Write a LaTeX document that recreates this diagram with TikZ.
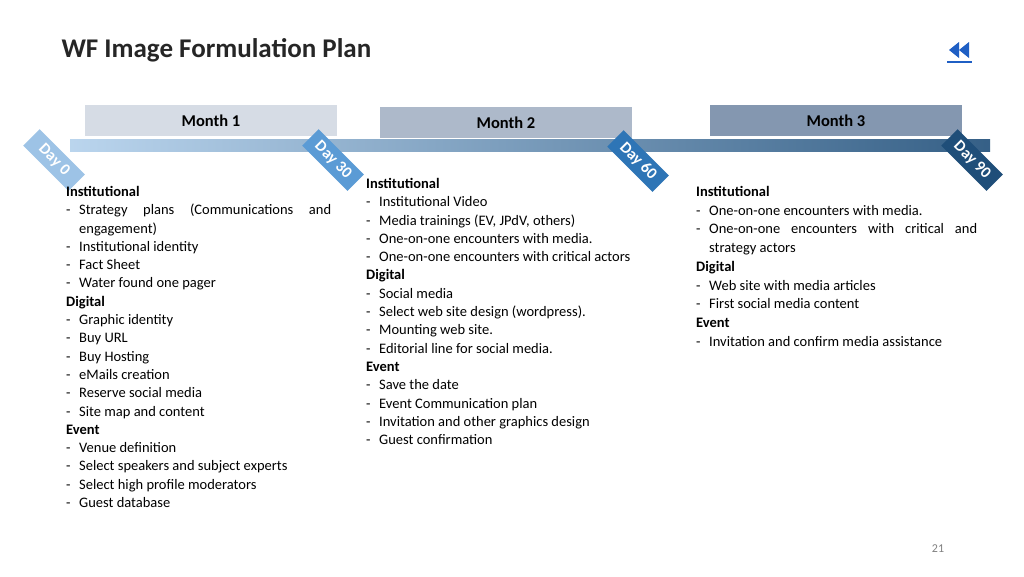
\documentclass[tikz,border=0pt]{standalone}
\usepackage{fontspec}
\setmainfont{Carlito}
\usetikzlibrary{positioning}
\definecolor{titlegray}{HTML}{262626}
\definecolor{monthA}{HTML}{D6DCE5}
\definecolor{monthB}{HTML}{ADB9CA}
\definecolor{monthC}{HTML}{8497B0}
\definecolor{dayA}{HTML}{9DC3E6}
\definecolor{dayB}{HTML}{5B9BD5}
\definecolor{dayC}{HTML}{2E75B6}
\definecolor{dayD}{HTML}{1F4E79}
\definecolor{iconblue}{HTML}{1F5FC4}
\newcommand{\itm}[1]{\makebox[13pt][l]{-}#1}
\begin{document}
\begin{tikzpicture}[x=1pt, y=-1pt,
    monthbox/.style={minimum width=252pt, minimum height=31pt, inner sep=0pt, font=\fontsize{16.5}{18}\selectfont\bfseries},
    daytag/.style={rotate=-45, minimum width=64pt, minimum height=23pt, inner sep=0pt, text=white, font=\fontsize{16}{18}\selectfont\bfseries},
    column/.style={anchor=north west, inner sep=0pt, align=left, font=\fontsize{14.5}{18.3}\selectfont}]
    \useasboundingbox (0,0) rectangle (1024,576);
    \fill[white] (0,0) rectangle (1024,576);

    \node[anchor=west, text=titlegray, font=\fontsize{27}{30}\selectfont\bfseries] (title) at (58,50) {WF Image Formulation Plan};
    \fill[iconblue] (949,50) -- (959,42) -- (959,58) -- cycle;
    \fill[iconblue] (959,50) -- (969,42) -- (969,58) -- cycle;
    \draw[iconblue, line width=1.5pt] (947,62) -- (972,62);

    % time line
    \shade[left color=dayA!70, right color=dayD!90] (70,139) rectangle (990,151);
    \node[monthbox, fill=monthA] (m1) at (211,120.5) {Month 1};
    \node[monthbox, fill=monthB] (m2) at (506,122.5) {Month 2};
    \node[monthbox, fill=monthC] (m3) at (836,120.5) {Month 3};

    \node[daytag, fill=dayA] (d0) at (54,160) {Day 0};
    \node[daytag, fill=dayB] (d30) at (333,160) {Day 30};
    \node[daytag, fill=dayC] (d60) at (638,161) {Day 60};
    \node[daytag, fill=dayD] (d90) at (972,160) {Day 90};

    % columns
    \node[column] (c1) at (66,186) {\textbf{Institutional}\\
        \itm{\makebox[252pt][s]{Strategy plans (Communications and}}\\
        \hspace*{13pt}engagement)\\
        \itm{Institutional identity}\\
        \itm{Fact Sheet}\\
        \itm{Water found one pager}\\
        \textbf{Digital}\\
        \itm{Graphic identity}\\
        \itm{Buy URL}\\
        \itm{Buy Hosting}\\
        \itm{eMails creation}\\
        \itm{Reserve social media}\\
        \itm{Site map and content}\\
        \textbf{Event}\\
        \itm{Venue definition}\\
        \itm{Select speakers and subject experts}\\
        \itm{Select high profile moderators}\\
        \itm{Guest database}};
    \node[column] (c2) at (366,178) {\textbf{Institutional}\\
        \itm{Institutional Video}\\
        \itm{Media trainings (EV, JPdV, others)}\\
        \itm{One-on-one encounters with media.}\\
        \itm{One-on-one encounters with critical actors}\\
        \textbf{Digital}\\
        \itm{Social media}\\
        \itm{Select web site design (wordpress).}\\
        \itm{Mounting web site.}\\
        \itm{Editorial line for social media.}\\
        \textbf{Event}\\
        \itm{Save the date}\\
        \itm{Event Communication plan}\\
        \itm{Invitation and other graphics design}\\
        \itm{Guest confirmation}};
    \node[column, font=\fontsize{14.5}{18.75}\selectfont] (c3) at (696,186) {\textbf{Institutional}\\
        \itm{One-on-one encounters with media.}\\
        \itm{\makebox[268pt][s]{One-on-one encounters with critical and}}\\
        \hspace*{13pt}strategy actors\\
        \textbf{Digital}\\
        \itm{Web site with media articles}\\
        \itm{First social media content}\\
        \textbf{Event}\\
        \itm{Invitation and confirm media assistance}};

    \node[text=gray, font=\fontsize{12}{14}\selectfont] (page) at (938,549) {21};
\end{tikzpicture}
\end{document}
